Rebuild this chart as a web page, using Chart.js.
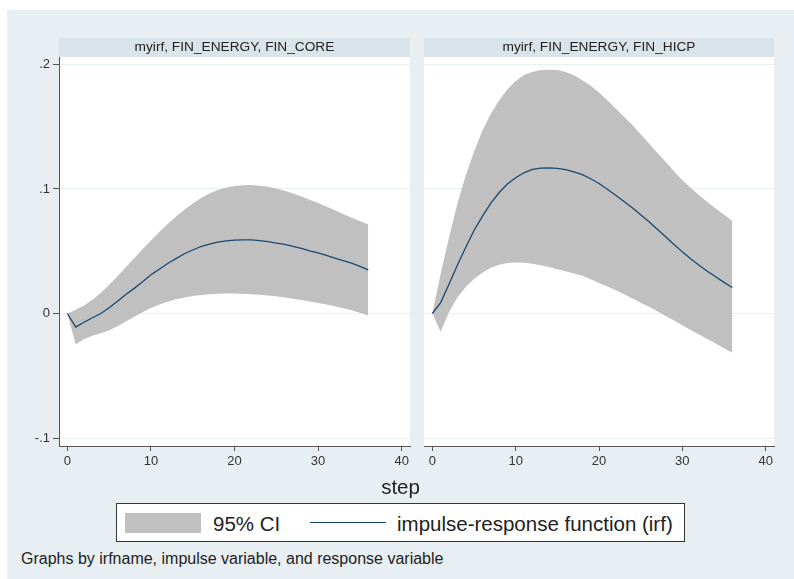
<!DOCTYPE html>
<html>
<head>
<meta charset="utf-8">
<script src="https://cdn.jsdelivr.net/npm/chart.js@4.4.1/dist/chart.umd.min.js"></script>
<style>
  body { margin: 0; background: #fff; font-family: "Liberation Sans", Arial, sans-serif; color: #222; }
  #page { position: absolute; left: 7px; top: 10px; width: 787px; height: 569px; background: #e8eff2; }
  canvas { position: absolute; }
  .txt { position: absolute; line-height: 1; white-space: nowrap; }
  #step-title { left: 7px; width: 787px; top: 477px; font-size: 20.5px; text-align: center; }
  #legend-box { position: absolute; left: 116px; top: 503px; width: 569px; height: 39px; box-sizing: border-box; border: 1px solid #333; background: #fff; }
  #ci-swatch { position: absolute; left: 125px; top: 513px; width: 76px; height: 20px; background: #c0c0c0; }
  #irf-swatch { position: absolute; left: 310px; top: 521.5px; width: 76px; height: 1.5px; background: #1a476f; }
  #note { left: 21px; top: 551px; font-size: 16px; }
</style>
</head>
<body>
<div id="page"></div>
<canvas id="core-chart" style="left:0px;top:38px" width="414" height="438"></canvas>
<canvas id="hicp-chart" style="left:424px;top:38px" width="354" height="438"></canvas>

<div id="step-title" class="txt">step</div>
<div id="legend-box"></div>
<div id="ci-swatch"></div>
<div class="txt" id="ci-label" style="left:213px;top:514px;font-size:20.5px">95% CI</div>
<div id="irf-swatch"></div>
<div class="txt" id="irf-label" style="left:397px;top:514px;font-size:20.5px">impulse-response function (irf)</div>
<div id="note" class="txt">Graphs by irfname, impulse variable, and response variable</div>

<script>
// steps 0..36
const steps = [0, 1, 2, 3, 4, 5, 6, 7, 8, 9, 10, 11, 12, 13, 14, 15, 16, 17, 18,
    19, 20, 21, 22, 23, 24, 25, 26, 27, 28, 29, 30, 31, 32, 33, 34, 35, 36]

// FIN_CORE response
const coreIrf = [0, -0.0109, -0.007, -0.0034, 0.000, 0.0047, 0.0099, 0.0153, 0.0202, 0.0255,
    0.0311, 0.0355, 0.0402, 0.0441, 0.048, 0.051, 0.0538, 0.0558, 0.0574, 0.0583,
    0.059, 0.0592, 0.0591, 0.0585, 0.0578, 0.0566, 0.0555, 0.0539, 0.0524, 0.0504,
    0.0486, 0.0467, 0.0445, 0.0424, 0.0404, 0.0378, 0.0351]
const coreUpper = [0, 0.003, 0.0065, 0.011, 0.0165, 0.023, 0.030, 0.0372, 0.0444, 0.0516,
    0.0586, 0.0654, 0.0719, 0.0779, 0.0834, 0.0884, 0.0927, 0.0963, 0.0991, 0.1011,
    0.1024, 0.1031, 0.1032, 0.1027, 0.1017, 0.1003, 0.0985, 0.0964, 0.094, 0.0914,
    0.0887, 0.0859, 0.083, 0.080, 0.077, 0.0742, 0.0715]
const coreLower = [0, -0.0247, -0.0205, -0.0178, -0.0158, -0.0134, -0.0102, -0.0065, -0.0027, 0.001,
    0.0044, 0.0072, 0.0095, 0.0114, 0.0129, 0.014, 0.0149, 0.0155, 0.0159, 0.0161,
    0.016, 0.0158, 0.0155, 0.0151, 0.0145, 0.0138, 0.0129, 0.0119, 0.0108, 0.0097,
    0.0085, 0.0072, 0.0058, 0.0043, 0.0026, 0.0006, -0.0016]

// FIN_HICP response
const hicpIrf = [0, 0.0088, 0.0235, 0.0387, 0.053, 0.0667, 0.078, 0.0885, 0.097, 0.104,
    0.109, 0.113, 0.1157, 0.1168, 0.117, 0.1165, 0.1155, 0.1138, 0.1116, 0.1082,
    0.1044, 0.0998, 0.095, 0.090, 0.085, 0.0794, 0.0736, 0.0676, 0.0616, 0.0555,
    0.0495, 0.044, 0.0388, 0.034, 0.0295, 0.025, 0.0209]
const hicpUpper = [0, 0.032, 0.061, 0.088, 0.1107, 0.130, 0.1467, 0.160, 0.171, 0.180,
    0.1867, 0.1915, 0.194, 0.1955, 0.1957, 0.1955, 0.194, 0.1914, 0.1874, 0.1829,
    0.1775, 0.1712, 0.1647, 0.158, 0.1513, 0.144, 0.1365, 0.129, 0.1218, 0.1143,
    0.107, 0.101, 0.095, 0.0895, 0.0843, 0.0793, 0.0744]
const hicpLower = [0, -0.0147, 0.0013, 0.0128, 0.0213, 0.0277, 0.0328, 0.0368, 0.0392, 0.0405,
    0.041, 0.0408, 0.040, 0.0387, 0.0373, 0.0355, 0.034, 0.0322, 0.0303, 0.0275,
    0.0246, 0.0217, 0.0187, 0.0154, 0.012, 0.0087, 0.0054, 0.0018, -0.0019, -0.0057,
    -0.0094, -0.0132, -0.0169, -0.0205, -0.0241, -0.0278, -0.0316]

const xTicks = [0, 10, 20, 30, 40]
const yTicks = [-0.1, 0, 0.1, 0.2]
const yTickLabels = ['-.1', '0', '.1', '.2']
const panelTitles = ['myirf, FIN_ENERGY, FIN_CORE', 'myirf, FIN_ENERGY, FIN_HICP']

const FONT = 'Liberation Sans'

// white plot area + header strip behind the panel title
const panelBackground = {
    id: 'panelBackground',
    beforeDraw(chart) {
        const { ctx, chartArea } = chart
        const tb = chart.titleBlock
        ctx.save()
        ctx.fillStyle = '#ffffff'
        ctx.fillRect(chartArea.left, chartArea.top, chartArea.right - chartArea.left, chartArea.bottom - chartArea.top)
        ctx.fillStyle = '#d9e4ea'
        ctx.fillRect(chartArea.left, tb.top, chartArea.right - chartArea.left, tb.bottom - tb.top)
        ctx.restore()
    }
}

function toPoints(values) {
    return steps.map((s, i) => ({ x: s, y: values[i] }))
}

function drawPanel(canvasId, title, irf, upper, lower, showY) {
    const ctx = document.getElementById(canvasId)
    return new Chart(ctx, {
        type: 'line',
        data: {
            datasets: [{
                label: 'impulse-response function (irf)',
                data: toPoints(irf),
                borderColor: '#1a476f',
                borderWidth: 1.3,
                fill: false,
                order: 0
            }, {
                label: '95% CI',
                data: toPoints(upper),
                borderColor: 'rgba(0,0,0,0)',
                backgroundColor: '#c0c0c0',
                fill: '+1',
                order: 1
            }, {
                label: 'lower',
                data: toPoints(lower),
                borderColor: 'rgba(0,0,0,0)',
                fill: false,
                order: 2
            }]
        },
        options: {
            responsive: false,
            animation: false,
            layout: { padding: { right: 4 } },
            elements: { point: { radius: 0 }, line: { tension: 0 } },
            plugins: {
                legend: { display: false },
                tooltip: { enabled: false },
                title: {
                    display: true,
                    text: title,
                    fullSize: false,
                    color: '#222',
                    font: { family: FONT, size: 13.7, weight: 'normal', lineHeight: '15px' },
                    padding: { top: 2, bottom: 2 }
                }
            },
            scales: {
                x: {
                    type: 'linear',
                    min: -1,
                    max: 41,
                    afterBuildTicks: s => { s.ticks = xTicks.map(v => ({ value: v })) },
                    afterFit: s => { s.height = 30 },
                    grid: { drawOnChartArea: false, color: '#555', tickLength: 5 },
                    border: { color: '#555' },
                    ticks: { color: '#333', padding: 3, maxRotation: 0, font: { family: FONT, size: 13 } }
                },
                y: {
                    type: 'linear',
                    min: -0.1064,
                    max: 0.206,
                    afterBuildTicks: s => { s.ticks = yTicks.map(v => ({ value: v })) },
                    afterFit: s => { s.width = showY ? 59 : 0 },
                    grid: { color: '#e8f0f2', tickColor: '#555', tickLength: 6, drawTicks: showY },
                    border: { display: showY, color: '#555' },
                    ticks: {
                        display: showY,
                        color: '#333',
                        padding: 3,
                        font: { family: FONT, size: 13 },
                        callback: (v, i) => yTickLabels[i]
                    }
                }
            }
        },
        plugins: [panelBackground]
    })
}

drawPanel('core-chart', panelTitles[0], coreIrf, coreUpper, coreLower, true)
drawPanel('hicp-chart', panelTitles[1], hicpIrf, hicpUpper, hicpLower, false)
</script>
</body>
</html>
